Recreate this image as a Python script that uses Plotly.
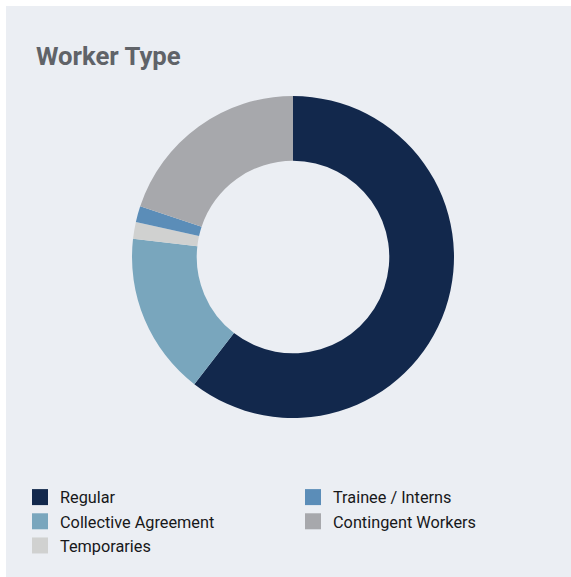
import plotly.graph_objects as go

title = "Worker Type"
labels = ["Regular", "Collective Agreement", "Temporaries", "Trainee / Interns", "Contingent Workers"]
values = [60.5, 16.3, 1.7, 1.6, 19.9]
colors = ["#12284c", "#79a6bd", "#d0d1d0", "#5b8db8", "#a7a8ac"]
legend_col1 = ["Regular", "Collective Agreement", "Temporaries"]
legend_col2 = ["Trainee / Interns", "Contingent Workers"]

W, H = 571, 577
fig = go.Figure()
fig.add_trace(go.Pie(
    labels=labels, values=values, sort=False, direction="clockwise", rotation=0,
    hole=0.598, marker=dict(colors=colors, line=dict(width=0)),
    textinfo="none", hoverinfo="label+percent", showlegend=False,
    domain=dict(x=[132 / W, 454 / W], y=[(H - 418) / H, (H - 96) / H]),
))
cmap = dict(zip(labels, colors))
for name in legend_col1:
    fig.add_trace(go.Scatter(x=[None], y=[None], mode="markers", name=name,
                             marker=dict(symbol="square", size=16, color=cmap[name]),
                             legend="legend", showlegend=True))
for name in legend_col2:
    fig.add_trace(go.Scatter(x=[None], y=[None], mode="markers", name=name,
                             marker=dict(symbol="square", size=16, color=cmap[name]),
                             legend="legend2", showlegend=True))

legend_font = dict(family="Roboto", size=16.3, color="#17181a")
fig.update_layout(
    width=W, height=H,
    margin=dict(l=0, r=0, t=0, b=0),
    paper_bgcolor="white", plot_bgcolor="rgba(0,0,0,0)",
    xaxis=dict(visible=False), yaxis=dict(visible=False),
    font=dict(family="Roboto"),
    shapes=[dict(type="rect", xref="paper", yref="paper", x0=6 / W, x1=1.02, y0=-0.02, y1=1 - 6 / H,
                 fillcolor="#ebeef3", line=dict(width=0), layer="below")],
    annotations=[dict(text="<b>" + title + "</b>", xref="paper", yref="paper",
                      x=34 / W, y=1 - 39 / H, xanchor="left", yanchor="top", showarrow=False,
                      font=dict(family="Roboto", size=25.7, color="#606368"))],
    legend=dict(x=20 / W, y=1 - 480 / H, xanchor="left", yanchor="top", orientation="v",
                font=legend_font, bgcolor="rgba(0,0,0,0)", tracegroupgap=0),
    legend2=dict(x=293 / W, y=1 - 480 / H, xanchor="left", yanchor="top", orientation="v",
                 font=legend_font, bgcolor="rgba(0,0,0,0)", tracegroupgap=0),
)
fig.write_html("out.html", config={"displayModeBar": False},
               post_script="document.body.style.margin='0';document.body.style.background='#ebeef3';document.documentElement.style.background='#ebeef3';")
